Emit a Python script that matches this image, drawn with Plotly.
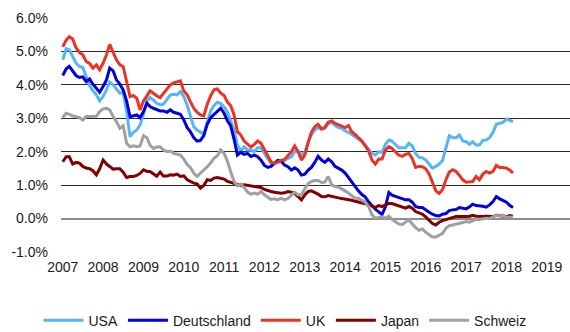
import pandas as pd
import plotly.graph_objects as go

# Monthly observations, January 2007 to March 2018 (yields in percent)
months = pd.date_range("2007-01-01", periods=135, freq="MS")

usa = [
    4.75, 5.08, 5.05, 4.82, 4.65, 4.55, 4.52, 4.25, 3.98, 3.82, 3.70, 3.52,
    3.65, 3.85, 4.08, 4.00, 3.88, 3.75, 3.78, 3.20, 2.45, 2.58, 2.65, 2.80,
    3.12, 3.52, 3.62, 3.55, 3.45, 3.40, 3.42, 3.55, 3.70, 3.72, 3.70, 3.80,
    3.65, 3.38, 3.05, 2.75, 2.65, 2.58, 2.52, 2.88, 3.22, 3.38, 3.48, 3.44,
    3.34, 3.18, 2.92, 2.65, 2.20, 2.02, 2.15, 2.05, 2.05, 2.00, 2.12, 2.12,
    1.95, 1.78, 1.65, 1.65, 1.68, 1.72, 1.74, 1.80, 1.85, 2.00, 2.02, 1.90,
    2.00, 2.30, 2.50, 2.65, 2.72, 2.68, 2.70, 2.84, 2.88, 2.78, 2.72, 2.70,
    2.62, 2.58, 2.52, 2.47, 2.38, 2.30, 2.20, 2.08, 1.95, 1.90, 2.00, 1.98,
    2.22, 2.35, 2.32, 2.22, 2.12, 2.12, 2.12, 2.25, 2.17, 1.95, 1.83, 1.82,
    1.75, 1.63, 1.51, 1.56, 1.63, 1.74, 2.08, 2.48, 2.42, 2.42, 2.50, 2.32,
    2.30, 2.22, 2.30, 2.20, 2.20, 2.34, 2.35, 2.42, 2.58, 2.82, 2.85, 2.88,
    2.98, 2.94, 2.90,
]

deutschland = [
    4.28, 4.48, 4.55, 4.42, 4.28, 4.22, 4.24, 4.10, 4.18, 4.02, 3.88, 3.78,
    3.95, 4.15, 4.50, 4.42, 4.15, 4.02, 3.85, 3.52, 3.05, 3.08, 3.10, 3.02,
    3.20, 3.45, 3.35, 3.30, 3.25, 3.22, 3.22, 3.18, 3.25, 3.18, 3.15, 3.12,
    2.95, 2.72, 2.60, 2.42, 2.32, 2.34, 2.48, 2.82, 3.02, 3.12, 3.20, 3.30,
    3.15, 2.92, 2.78, 2.38, 1.90, 1.98, 1.92, 1.95, 1.86, 1.90, 1.85, 1.75,
    1.59, 1.53, 1.56, 1.65, 1.74, 1.72, 1.60, 1.55, 1.45, 1.52, 1.45, 1.30,
    1.33, 1.45, 1.53, 1.68, 1.86, 1.75, 1.68, 1.78, 1.70, 1.56, 1.50, 1.45,
    1.36, 1.22, 1.10, 0.96, 0.83, 0.72, 0.65, 0.50, 0.38, 0.28, 0.20, 0.12,
    0.35, 0.78, 0.70, 0.66, 0.62, 0.60, 0.56, 0.56, 0.49, 0.36, 0.33, 0.33,
    0.25, 0.19, 0.13, 0.09, 0.08, 0.13, 0.15, 0.24, 0.26, 0.27, 0.33, 0.31,
    0.29, 0.35, 0.43, 0.39, 0.39, 0.37, 0.34, 0.41, 0.51, 0.66, 0.59, 0.53,
    0.49, 0.39, 0.33,
]

uk = [
    5.14, 5.34, 5.44, 5.37, 5.11, 4.97, 4.90, 4.70, 4.64, 4.50, 4.60, 4.45,
    4.65, 4.90, 5.21, 5.00, 4.75, 4.60, 4.55, 4.10, 3.65, 3.68, 3.60, 3.25,
    3.52, 3.67, 3.82, 3.75, 3.67, 3.62, 3.75, 3.90, 4.00, 4.06, 4.10, 4.12,
    3.82, 3.70, 3.50, 3.30, 3.18, 3.10, 3.07, 3.42, 3.67, 3.85, 3.88, 3.75,
    3.68, 3.48, 3.38, 3.10, 2.60, 2.50, 2.32, 2.22, 2.14, 2.22, 2.32, 2.25,
    2.05, 1.85, 1.70, 1.65, 1.70, 1.74, 1.77, 1.90, 2.00, 2.17, 2.00, 1.75,
    1.90, 2.28, 2.58, 2.75, 2.82, 2.68, 2.73, 2.88, 2.92, 2.85, 2.80, 2.75,
    2.72, 2.78, 2.60, 2.52, 2.42, 2.32, 2.18, 2.02, 1.75, 1.63, 1.78, 1.78,
    2.05, 2.15, 2.10, 2.00, 1.90, 1.86, 1.92, 1.95, 1.80, 1.53, 1.56, 1.55,
    1.49, 1.33, 1.06, 0.83, 0.75, 0.86, 1.16, 1.39, 1.46, 1.41, 1.29, 1.16,
    1.09, 1.11, 1.11, 1.26, 1.16, 1.33, 1.41, 1.36, 1.41, 1.59, 1.53, 1.53,
    1.51, 1.45, 1.36,
]

japan = [
    1.70, 1.85, 1.85, 1.63, 1.68, 1.66, 1.56, 1.51, 1.49, 1.43, 1.31, 1.49,
    1.75, 1.63, 1.56, 1.48, 1.49, 1.49, 1.39, 1.23, 1.26, 1.26, 1.29, 1.35,
    1.46, 1.41, 1.41, 1.35, 1.27, 1.39, 1.27, 1.27, 1.31, 1.30, 1.33, 1.26,
    1.28, 1.16, 1.11, 1.06, 1.04, 0.91, 0.99, 1.16, 1.14, 1.21, 1.23, 1.21,
    1.18, 1.11, 1.08, 1.06, 1.01, 0.99, 1.01, 0.99, 0.99, 0.97, 0.95, 0.93,
    0.87, 0.83, 0.81, 0.79, 0.77, 0.76, 0.77, 0.81, 0.79, 0.75, 0.66, 0.56,
    0.71, 0.81, 0.83, 0.79, 0.73, 0.66, 0.65, 0.69, 0.66, 0.63, 0.62, 0.60,
    0.59, 0.57, 0.55, 0.52, 0.50, 0.48, 0.45, 0.42, 0.38, 0.33, 0.39, 0.36,
    0.41, 0.45, 0.45, 0.41, 0.37, 0.35, 0.31, 0.36, 0.31, 0.21, 0.16, 0.13,
    0.05, -0.04, -0.15, -0.19, -0.11, -0.06, -0.03, 0.02, 0.04, 0.06, 0.06, 0.05,
    0.06, 0.07, 0.10, 0.07, 0.06, 0.06, 0.07, 0.06, 0.06, 0.10, 0.08, 0.08,
    0.06, 0.09, 0.07,
]

schweiz = [
    3.02, 3.15, 3.12, 3.07, 3.05, 3.02, 2.95, 3.05, 3.05, 3.05, 3.06, 3.20,
    3.28, 3.30, 3.25, 3.05, 2.90, 2.70, 2.78, 2.25, 2.15, 2.18, 2.15, 2.17,
    2.48, 2.42, 2.20, 2.10, 2.14, 2.15, 2.05, 2.00, 2.02, 1.95, 1.92, 1.90,
    1.78, 1.61, 1.53, 1.36, 1.26, 1.35, 1.45, 1.55, 1.66, 1.80, 1.88, 2.05,
    1.95, 1.70, 1.41, 1.11, 0.98, 1.03, 0.93, 0.79, 0.73, 0.76, 0.73, 0.81,
    0.71, 0.63, 0.57, 0.59, 0.56, 0.61, 0.56, 0.60, 0.70, 0.79, 0.71, 0.71,
    0.89, 1.05, 1.11, 1.14, 1.14, 1.08, 1.09, 1.26, 1.01, 0.96, 0.94, 0.89,
    0.83, 0.76, 0.68, 0.61, 0.61, 0.56, 0.49, 0.36, 0.11, 0.01, 0.04, 0.05,
    0.01, 0.07, -0.02, -0.09, -0.16, -0.18, -0.11, -0.03, -0.16, -0.27, -0.35, -0.31,
    -0.41, -0.49, -0.55, -0.55, -0.50, -0.44, -0.29, -0.21, -0.19, -0.17, -0.16, -0.12,
    -0.09, -0.11, -0.07, -0.02, -0.03, -0.01, 0.01, 0.00, 0.06, 0.10, 0.07, 0.10,
    0.04, 0.05, 0.05,
]

series = [
    ("USA", usa, "#55b4fa"),
    ("Deutschland", deutschland, "#0000dc"),
    ("UK", uk, "#ea3323"),
    ("Japan", japan, "#800000"),
    ("Schweiz", schweiz, "#a0a0a0"),
]

y_ticks = [-1, 0, 1, 2, 3, 4, 5, 6]
y_tick_labels = ["-1.0%", "0.0%", "1.0%", "2.0%", "3.0%", "4.0%", "5.0%", "6.0%"]

FONT = "Liberation Sans, Arial, sans-serif"

fig = go.Figure()
for name, values, color in series:
    fig.add_trace(go.Scatter(
        x=months, y=values, name=name, mode="lines",
        line=dict(color=color, width=3),
    ))

fig.update_layout(
    width=570, height=332,
    margin=dict(l=61, r=0, t=18, b=80),
    paper_bgcolor="white", plot_bgcolor="white",
    font=dict(family=FONT, size=14, color="#1a1a1a"),
    showlegend=True,
    legend=dict(
        orientation="h", xref="container", yref="container",
        x=0.5, xanchor="center", y=0.034, yanchor="middle",
        font=dict(family=FONT, size=14, color="#1a1a1a"),
        itemwidth=40, tracegroupgap=0,
    ),
    xaxis=dict(
        type="date",
        range=["2006-12-16", "2019-07-30"],
        tick0="2007-01-01", dtick="M12", tickformat="%Y",
        showgrid=False, zeroline=False, showline=False, ticks="",
        ticklabelstandoff=5,
    ),
    yaxis=dict(
        range=[-1.0, 6.0],
        tickvals=y_ticks, ticktext=y_tick_labels,
        showgrid=True, gridcolor="#2a2a2a", gridwidth=1,
        zeroline=True, zerolinecolor="#8c8c8c", zerolinewidth=2,
        showline=False, ticks="",
        ticklabelstandoff=12,
    ),
)

fig.write_html("out.html")
